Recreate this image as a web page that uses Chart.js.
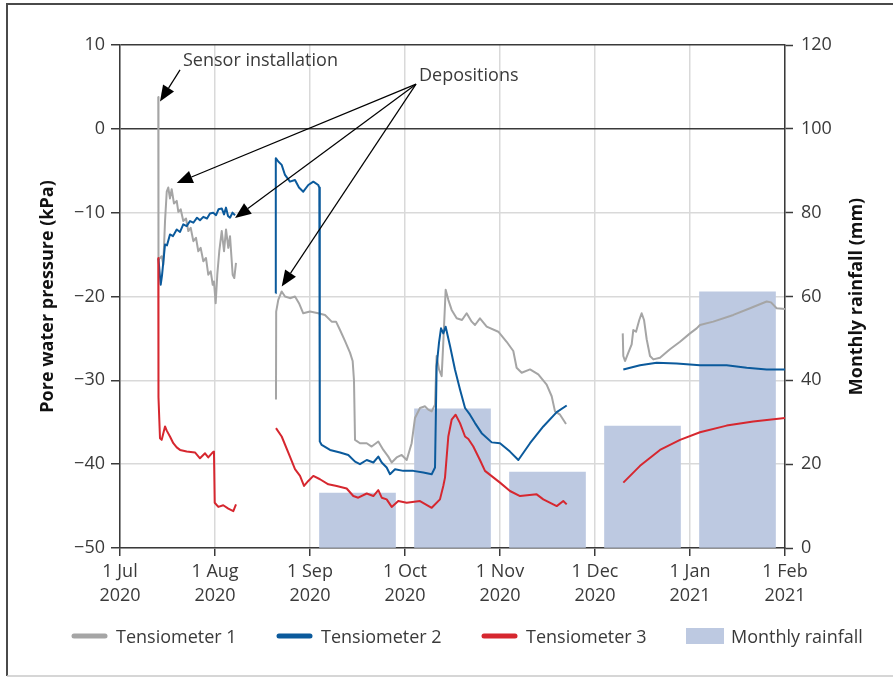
<!DOCTYPE html>
<html><head><meta charset="utf-8">
<script src="https://cdn.jsdelivr.net/npm/chart.js@4.4.1/dist/chart.umd.min.js"></script>
<style>html,body{margin:0;padding:0;background:#fff;}canvas{display:block;}</style>
</head><body>
<canvas id="c" width="893" height="677"></canvas>
<script>
// ---- axis tick labels ----
const monthTickLabels = [['1 Jul','2020'],['1 Aug','2020'],['1 Sep','2020'],['1 Oct','2020'],['1 Nov','2020'],['1 Dec','2020'],['1 Jan','2021'],['1 Feb','2021']];
const pressureTicks = [-50,-40,-30,-20,-10,0,10];
const rainfallTicks = [0,20,40,60,80,100,120];

// ---- monthly rainfall (time in months after 1 Jul 2020, bar at month centre) ----
const rainMonths = [0.5,1.5,2.5,3.5,4.5,5.5,6.5];
const rainfallMm = [null,null,13.1,33.2,18.1,29.1,61.1];

// ---- Tensiometer 1 (time in months after 1 Jul 2020; null = data gap) ----
const t1Months = [0.403,0.405,0.439,0.456,0.474,0.492,0.508,0.526,0.544,0.568,0.597,0.614,0.639,0.666,0.695,0.719,0.744,0.772,0.800,0.824,0.849,0.877,0.905,0.929,0.955,0.976,0.989,1.007,1.024,1.045,1.071,1.095,1.116,1.140,1.158,1.186,1.203,1.221,null,
1.642,1.644,1.666,1.702,1.737,1.789,1.842,1.884,1.929,2.000,2.087,2.158,2.228,2.274,2.316,2.368,2.421,2.449,2.463,2.474,2.526,2.597,2.649,2.719,2.772,2.824,2.860,2.912,2.965,3.018,3.070,3.105,3.158,3.211,3.245,3.281,
3.316,3.333,3.358,3.386,3.403,3.428,3.456,3.491,3.544,3.600,3.649,3.702,3.737,3.789,3.860,3.982,4.070,4.140,4.175,4.228,4.316,4.403,4.491,4.544,4.579,4.632,4.695,null,
5.292,5.298,5.316,5.351,5.386,5.403,5.432,5.466,5.491,5.516,5.544,5.579,5.614,5.684,5.789,5.895,6.000,6.070,6.105,6.245,6.456,6.632,6.807,6.853,6.912,7.000];
const t1Kpa = [3.8,-15.6,-15.2,-16.2,-11.0,-7.5,-7.0,-8.3,-7.2,-8.9,-8.6,-9.9,-9.6,-11.0,-10.7,-12.2,-11.8,-13.4,-13.0,-14.6,-14.2,-15.8,-15.4,-17.4,-17.0,-18.6,-18.2,-20.8,-17.4,-14.6,-12.2,-14.6,-12.0,-14.2,-12.8,-17.4,-17.8,-16.0,null,
-32.3,-21.8,-20.4,-19.4,-20.0,-20.2,-20.0,-20.8,-22.0,-21.8,-22.0,-22.2,-23.0,-23.0,-24.0,-25.3,-26.7,-27.7,-30.0,-37.1,-37.5,-37.5,-37.9,-37.3,-38.3,-39.1,-39.8,-39.2,-38.9,-39.5,-37.5,-34.5,-33.3,-33.1,-33.5,-33.7,
-32.9,-27.1,-28.7,-29.5,-25.5,-19.2,-20.4,-21.6,-22.6,-22.8,-22.0,-23.0,-23.4,-22.6,-23.6,-24.2,-25.4,-26.5,-28.5,-29.1,-28.7,-29.3,-30.5,-31.9,-33.7,-34.1,-35.2,null,
-24.4,-27.1,-27.7,-26.7,-25.7,-24.0,-24.2,-22.8,-22.0,-22.8,-25.1,-27.1,-27.5,-27.3,-26.3,-25.4,-24.4,-23.8,-23.4,-23.0,-22.2,-21.4,-20.6,-20.7,-21.4,-21.5];

// ---- Tensiometer 2 ----
const t2Months = [0.405,0.428,0.442,0.474,0.495,0.526,0.558,0.597,0.632,0.666,0.702,0.737,0.772,0.811,0.842,0.877,0.916,0.947,0.982,1.011,1.037,1.071,1.095,1.116,1.137,1.158,1.184,1.211,null,
1.639,1.640,1.666,1.702,1.737,1.789,1.842,1.884,1.929,1.982,2.035,2.087,2.098,2.103,2.123,2.211,2.316,2.403,2.474,2.526,2.597,2.667,2.719,2.755,2.807,2.842,2.895,2.982,3.087,3.193,3.281,3.316,
3.333,3.358,3.379,3.403,3.428,3.474,3.526,3.579,3.632,3.684,3.737,3.807,3.913,4.000,4.105,4.193,4.316,4.456,4.597,4.702,null,
5.298,5.474,5.649,5.860,6.105,6.386,6.597,6.807,7.000];
const t2Kpa = [-15.5,-18.6,-17.5,-13.8,-13.9,-12.6,-12.8,-12.0,-12.3,-11.4,-11.6,-11.0,-11.2,-10.6,-10.9,-10.5,-10.7,-10.1,-10.0,-10.3,-9.6,-9.5,-10.2,-9.4,-10.4,-10.6,-10.0,-10.3,null,
-19.6,-3.5,-3.9,-4.3,-5.5,-6.3,-6.1,-7.0,-7.5,-6.7,-6.3,-6.7,-7.0,-37.3,-37.7,-38.3,-38.6,-38.9,-39.7,-40.0,-39.5,-39.8,-39.1,-39.8,-40.4,-41.2,-40.6,-40.8,-40.8,-41.0,-41.2,-40.4,
-28.3,-25.5,-23.8,-24.4,-23.6,-25.9,-28.7,-31.1,-33.3,-34.1,-35.1,-36.3,-37.4,-37.5,-38.5,-39.5,-37.5,-35.5,-33.8,-33.0,null,
-28.7,-28.2,-27.9,-28.0,-28.2,-28.2,-28.5,-28.7,-28.7];

// ---- Tensiometer 3 ----
const t3Months = [0.403,0.405,0.421,0.439,0.474,0.492,0.526,0.561,0.597,0.632,0.702,0.789,0.842,0.895,0.929,0.976,0.989,0.997,1.035,1.087,1.140,1.193,1.221,null,
1.642,1.702,1.789,1.842,1.895,1.937,1.982,2.035,2.105,2.193,2.281,2.386,2.456,2.508,2.597,2.667,2.719,2.755,2.807,2.860,2.929,3.018,3.158,3.281,3.368,
3.403,3.421,3.456,3.491,3.533,3.579,3.632,3.667,3.719,3.789,3.842,4.000,4.105,4.211,4.386,4.456,4.597,4.666,4.702,null,
5.298,5.474,5.684,5.895,6.105,6.386,6.666,7.000];
const t3Kpa = [-15.4,-32.0,-36.9,-37.1,-35.5,-36.0,-36.7,-37.5,-38.0,-38.3,-38.5,-38.6,-39.3,-38.7,-39.2,-38.6,-38.5,-44.6,-45.1,-44.9,-45.3,-45.6,-44.8,null,
-35.7,-36.7,-39.1,-40.6,-41.4,-42.6,-42.0,-41.4,-41.8,-42.4,-42.6,-42.9,-43.8,-44.0,-43.5,-43.8,-43.1,-44.0,-44.2,-45.1,-44.4,-44.6,-44.4,-45.2,-44.2,
-42.6,-41.6,-36.7,-34.7,-34.1,-35.1,-36.7,-37.0,-37.9,-39.5,-40.8,-42.2,-43.2,-43.8,-43.6,-44.2,-45.0,-44.4,-44.8,null,
-42.2,-40.2,-38.3,-37.1,-36.2,-35.4,-34.9,-34.5];

// ---- annotations (data coordinates: [months, kPa]) ----
const annotationTexts = [
  {text:'Sensor installation', at:[0.663, 7.45]},
  {text:'Depositions', at:[3.147, 5.72]}
];
const annotationArrows = [
  {from:[0.632, 7.03], to:[0.421, 3.25]},
  {from:[3.116, 5.33], to:[0.597, -6.47]},
  {from:[3.116, 5.33], to:[1.211, -10.64]},
  {from:[3.116, 5.33], to:[1.702, -18.8]}
];

// ---- styling ----
const C1 = '#a5a5a5', C2 = '#0b5a9c', C3 = '#d6272f', CBAR = '#bdc9e1';
const DARK = '#3a3a3a', GRID = '#d9d9d9', TXT = '#3a3a3a';
const FONT = '"Open Sans", "Noto Sans", sans-serif';

function toPoints(xs, ys) {
  const out = []; let last = 0;
  for (let i = 0; i < xs.length; i++) {
    const x = xs[i] === null ? last : xs[i];
    last = x;
    out.push({x: x, y: ys[i]});
  }
  return out;
}
const fmt = v => v < 0 ? '\u2212' + Math.abs(v) : String(v);

function arrow(c, x1, y1, x2, y2) {
  const a = Math.atan2(y2 - y1, x2 - x1), L = 16, W = 6.5;
  const bx = x2 - L * Math.cos(a), by = y2 - L * Math.sin(a);
  c.beginPath(); c.moveTo(x1, y1); c.lineTo(bx, by); c.stroke();
  c.beginPath(); c.moveTo(x2, y2);
  c.lineTo(bx + W * Math.sin(a), by - W * Math.cos(a));
  c.lineTo(bx - W * Math.sin(a), by + W * Math.cos(a));
  c.closePath(); c.fill();
}

const decor = {
  id: 'decor',
  beforeDraw(chart) {
    const c = chart.ctx; c.save();
    c.fillStyle = '#fff'; c.fillRect(0, 0, chart.width, chart.height);
    c.restore();
  },
  afterDraw(chart) {
    const c = chart.ctx, xs = chart.scales.x, ys = chart.scales.y, a = chart.chartArea;
    c.save();
    // outer frame
    c.strokeStyle = '#4a4a4a'; c.lineWidth = 2;
    c.beginPath(); c.moveTo(chart.width + 2, 4); c.lineTo(7, 4); c.lineTo(7, 676); c.stroke();
    c.strokeStyle = '#c8c8c8'; c.lineWidth = 1.5;
    c.beginPath(); c.moveTo(7, 676); c.lineTo(chart.width + 2, 676); c.stroke();
    // axis titles
    c.fillStyle = '#111'; c.font = 'bold 18px ' + FONT; c.textAlign = 'center'; c.textBaseline = 'middle';
    const cy = (a.top + a.bottom) / 2;
    c.save(); c.translate(48, cy); c.rotate(-Math.PI / 2); c.fillText('Pore water pressure (kPa)', 0, 0); c.restore();
    c.save(); c.translate(857, cy); c.rotate(-Math.PI / 2); c.fillText('Monthly rainfall (mm)', 0, 0); c.restore();
    // annotations
    c.fillStyle = TXT; c.font = '18px ' + FONT; c.textAlign = 'left'; c.textBaseline = 'alphabetic';
    annotationTexts.forEach(t => c.fillText(t.text, xs.getPixelForValue(t.at[0]), ys.getPixelForValue(t.at[1])));
    c.strokeStyle = '#000'; c.fillStyle = '#000'; c.lineWidth = 1.2;
    annotationArrows.forEach(r => arrow(c, xs.getPixelForValue(r.from[0]), ys.getPixelForValue(r.from[1]),
                                         xs.getPixelForValue(r.to[0]), ys.getPixelForValue(r.to[1])));
    // legend
    const ly = 636;
    c.lineWidth = 5; c.lineCap = 'round';
    [[74, C1, 'Tensiometer 1'], [279, C2, 'Tensiometer 2'], [484, C3, 'Tensiometer 3']].forEach(([x, col, lab]) => {
      c.strokeStyle = col; c.beginPath(); c.moveTo(x, ly); c.lineTo(x + 31, ly); c.stroke();
      c.fillStyle = TXT; c.font = '18px ' + FONT; c.textBaseline = 'alphabetic'; c.fillText(lab, x + 42, 643);
    });
    c.fillStyle = CBAR; c.fillRect(686, 628, 38, 16);
    c.fillStyle = TXT; c.fillText('Monthly rainfall', 731, 643);
    c.restore();
  }
};

const lineDs = (label, xs, ys, col, order) => ({
  type: 'line', label, data: toPoints(xs, ys), borderColor: col, backgroundColor: col,
  borderWidth: 2, pointRadius: 0, tension: 0, spanGaps: false, yAxisID: 'y', order,
  borderJoinStyle: 'round'
});

new Chart(document.getElementById('c'), {
  type: 'line',
  data: {
    datasets: [
      lineDs('Tensiometer 1', t1Months, t1Kpa, C1, 3),
      lineDs('Tensiometer 2', t2Months, t2Kpa, C2, 2),
      lineDs('Tensiometer 3', t3Months, t3Kpa, C3, 1),
      {type: 'bar', label: 'Monthly rainfall', data: rainMonths.map((m, i) => ({x: m, y: rainfallMm[i]})),
       backgroundColor: CBAR, borderWidth: 0, barThickness: 76, yAxisID: 'y2', order: 10}
    ]
  },
  options: {
    responsive: false, animation: false, devicePixelRatio: 1,
    layout: {padding: {top: 45, left: 0, right: 0, bottom: 0}},
    plugins: {legend: {display: false}, tooltip: {enabled: false}},
    scales: {
      x: {
        type: 'linear', min: 0, max: 7, offset: false,
        afterBuildTicks: s => { s.ticks = monthTickLabels.map((_, i) => ({value: i})); },
        afterFit: s => { s.height = 129; },
        ticks: {callback: v => monthTickLabels[v], autoSkip: false, maxRotation: 0, padding: 4, color: TXT,
                font: {family: FONT, size: 18, lineHeight: 1.333}},
        grid: {offset: false, color: GRID, lineWidth: 1.5, tickColor: DARK, tickLength: 8, tickWidth: 1.5},
        border: {color: DARK, width: 1.5}
      },
      y: {
        position: 'left', min: -50, max: 10,
        afterBuildTicks: s => { s.ticks = pressureTicks.map(v => ({value: v})); },
        afterFit: s => { s.width = 120; },
        ticks: {callback: v => fmt(v), padding: 6, color: TXT, font: {family: FONT, size: 18}},
        grid: {color: ctx => (ctx.tick && (ctx.tick.value === 0 || ctx.tick.value === 10)) ? DARK : GRID,
               lineWidth: 1.5, tickColor: DARK, tickLength: 9, tickWidth: 1.5},
        border: {color: DARK, width: 1.5}
      },
      y2: {
        position: 'right', min: 0, max: 120,
        afterBuildTicks: s => { s.ticks = rainfallTicks.map(v => ({value: v})); },
        afterFit: s => { s.width = 108; },
        ticks: {callback: v => String(v), padding: 8, color: TXT, font: {family: FONT, size: 18}},
        grid: {drawOnChartArea: false, tickColor: DARK, tickLength: 8, tickWidth: 1.5},
        border: {color: DARK, width: 1.5}
      }
    }
  },
  plugins: [decor]
});
</script>
</body></html>
